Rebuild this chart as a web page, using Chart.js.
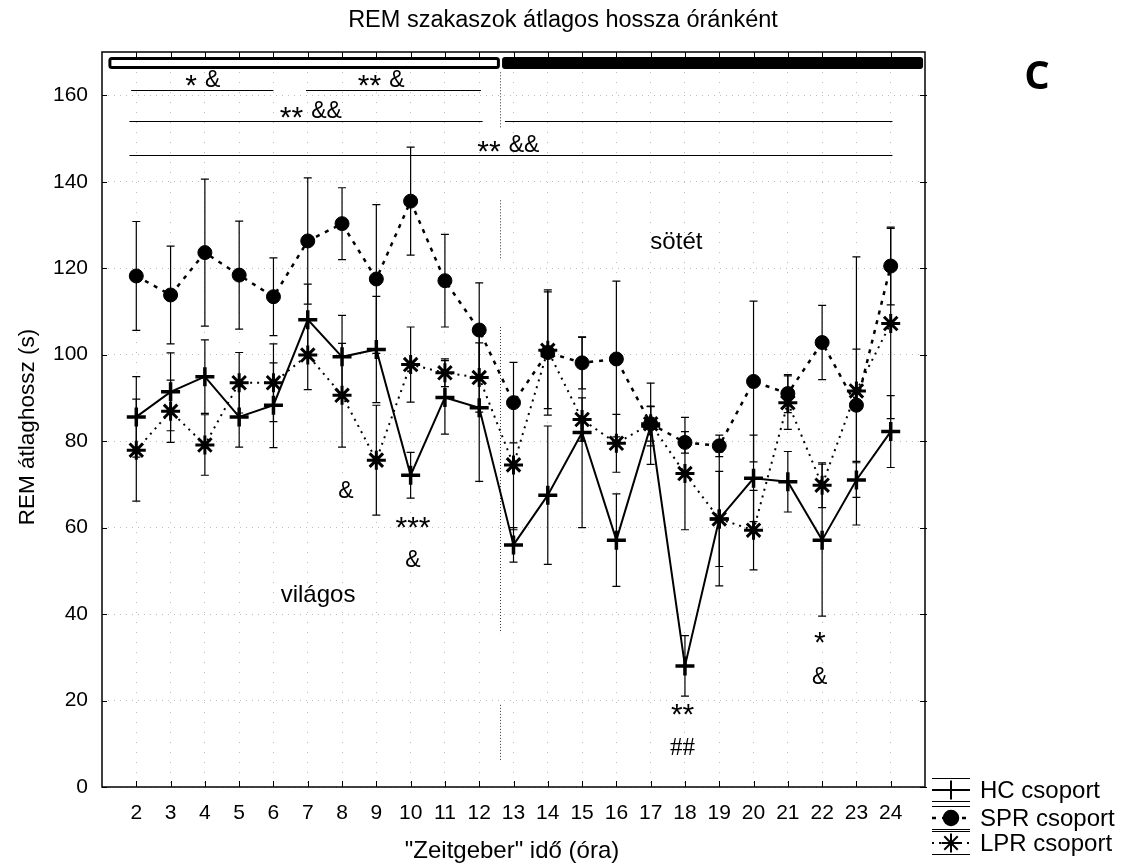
<!DOCTYPE html>
<html>
<head>
<meta charset="utf-8">
<script src="https://cdn.jsdelivr.net/npm/chart.js@4"></script>
<style>
html, body { margin: 0; padding: 0; background: #fff; }
#wrap { width: 1126px; height: 867px; }
</style>
</head>
<body>
<div id="wrap"><canvas id="myChart" width="1126" height="867"></canvas></div>
<script>
// órák (Zeitgeber idő)
const hours = [2, 3, 4, 5, 6, 7, 8, 9, 10, 11, 12, 13, 14, 15, 16, 17, 18, 19, 20, 21, 22, 23, 24];

// HC csoport: átlag és SE
const hcMean = [85.6, 91.4, 94.9, 85.6, 88.3, 108.1, 99.5, 101.2, 72.1, 90.1, 87.7, 56.0, 67.5, 82.0, 57.1, 83.5, 28.0, 62.0, 71.4, 70.6, 57.1, 71.0, 82.2];
const hcErr  = [9.3, 9.0, 8.5, 7.0, 9.8, 8.2, 9.6, 12.3, 5.3, 8.5, 17.0, 4.0, 16.0, 22.0, 10.7, 4.6, 7.0, 15.5, 10.0, 7.0, 17.6, 4.0, 8.3];

// SPR csoport
const sprMean = [118.2, 113.8, 123.6, 118.4, 113.4, 126.3, 130.3, 117.5, 135.5, 117.1, 105.7, 88.9, 100.5, 98.1, 99.0, 84.0, 79.7, 78.9, 93.8, 91.0, 102.8, 88.3, 120.5];
const sprErr  = [12.6, 11.3, 17.0, 12.5, 9.0, 14.6, 8.3, 17.2, 12.5, 10.7, 10.9, 9.3, 14.5, 6.0, 18.0, 9.4, 2.5, 2.5, 18.6, 4.4, 8.6, 13.0, 9.0];

// LPR csoport
const lprMean = [77.9, 86.9, 79.1, 93.5, 93.5, 99.9, 90.6, 75.6, 97.7, 95.8, 94.7, 74.5, 101.0, 85.0, 79.5, 84.0, 72.5, 62.0, 59.4, 88.9, 69.8, 91.6, 107.2];
const lprErr  = [11.8, 7.2, 7.0, 7.0, 9.0, 8.0, 12.0, 12.7, 8.7, 3.2, 8.0, 15.0, 13.5, 5.0, 6.7, 4.0, 13.0, 11.0, 9.2, 6.2, 5.2, 31.0, 22.0];

const yTicks = [0, 20, 40, 60, 80, 100, 120, 140, 160];

// szignifikancia vonalak: [tól, ig, szint]
const sigLines = [[1.85, 6.0, 161.2], [6.95, 12.05, 161.2], [1.8, 12.1, 154.0], [12.75, 24.05, 154.0], [1.8, 24.05, 146.1]];
const sigTexts = [['* &', 3.94, 163.4], ['** &', 9.14, 163.4], ['** &&', 7.09, 156.2], ['** &&', 12.85, 148.3]];
const markTexts = [['&', 8.11, 68.2], ['***', 10.07, 61.3], ['&', 10.07, 52.3], ['**', 17.93, 18.0], ['##', 17.93, 9.0], ['*', 21.93, 34.7], ['&', 21.93, 25.4]];
const phaseTexts = [['világos', 7.3, 44.4], ['sötét', 17.75, 126.0]];
const lightEnd = 12.6;
const dividerParts = [[165.3, 152.4], [135.7, 121.8], [106.4, 35.6], [19.0, 6.2]];

const FONT = "'Liberation Sans', Arial, sans-serif";

function toPoints(mean) {
    return hours.map((h, i) => ({x: h, y: mean[i]}));
}

function drawStars(ctx, txt, x, y, size) {
    // a csillagok a sor közepén álljanak
    ctx.font = size + 'px ' + FONT;
    ctx.fillText(txt, x, y + size * 0.22);
}

// hibasávok a pontok alá
const errorBars = {
    id: 'errorBars',
    beforeDatasetsDraw(chart) {
        const {ctx, scales: {x, y}} = chart;
        ctx.save();
        ctx.strokeStyle = '#000';
        ctx.lineWidth = 1.2;
        chart.data.datasets.forEach(ds => {
            ds.data.forEach((p, i) => {
                const e = ds.errors[i];
                const px = x.getPixelForValue(p.x);
                const t = y.getPixelForValue(p.y + e);
                const b = y.getPixelForValue(p.y - e);
                ctx.beginPath();
                ctx.moveTo(px, t); ctx.lineTo(px, b);
                ctx.moveTo(px - 4, t); ctx.lineTo(px + 4, t);
                ctx.moveTo(px - 4, b); ctx.lineTo(px + 4, b);
                ctx.stroke();
            });
        });
        ctx.restore();
    }
};

// keret, belső osztások, feliratok, jelmagyarázat
const extras = {
    id: 'extras',
    beforeDatasetsDraw(chart) {
        const {ctx, chartArea: a, scales: {x, y}} = chart;
        ctx.save();
        ctx.strokeStyle = '#000';

        // világos / sötét sáv
        const x0 = x.getPixelForValue(1.23), x1 = x.getPixelForValue(12.56);
        const x2 = x.getPixelForValue(12.71), x3 = x.getPixelForValue(24.9);
        ctx.lineWidth = 3;
        ctx.beginPath();
        ctx.roundRect(x0, a.top + 6.5, x1 - x0, 9, 2);
        ctx.fillStyle = '#fff';
        ctx.fill();
        ctx.stroke();
        ctx.beginPath();
        ctx.roundRect(x2 - 1.5, a.top + 5, x3 - x2 + 3, 12, 3);
        ctx.fillStyle = '#000';
        ctx.fill();

        // szignifikancia vonalak
        ctx.lineWidth = 1;
        sigLines.forEach(([a1, a2, v]) => {
            const py = Math.round(y.getPixelForValue(v)) + 0.5;
            ctx.beginPath();
            ctx.moveTo(x.getPixelForValue(a1), py);
            ctx.lineTo(x.getPixelForValue(a2), py);
            ctx.stroke();
        });

        // világos-sötét határ
        ctx.setLineDash([1, 2]);
        ctx.strokeStyle = '#333';
        const dx = Math.round(x.getPixelForValue(lightEnd)) + 0.5;
        dividerParts.forEach(([v1, v2]) => {
            ctx.beginPath();
            ctx.moveTo(dx, y.getPixelForValue(v1));
            ctx.lineTo(dx, y.getPixelForValue(v2));
            ctx.stroke();
        });
        ctx.setLineDash([]);
        ctx.restore();
    },
    afterDraw(chart) {
        const {ctx, chartArea: a, scales: {x, y}} = chart;
        ctx.save();
        ctx.strokeStyle = '#000';
        ctx.fillStyle = '#000';

        // keret
        ctx.lineWidth = 1.5;
        ctx.strokeRect(a.left, a.top, a.right - a.left, a.bottom - a.top);

        // osztások befelé
        ctx.lineWidth = 1;
        ctx.beginPath();
        yTicks.forEach(v => {
            const py = Math.round(y.getPixelForValue(v)) + 0.5;
            ctx.moveTo(a.left, py); ctx.lineTo(a.left + 5, py);
            ctx.moveTo(a.right - 5, py); ctx.lineTo(a.right + 2, py);
        });
        hours.forEach(h => {
            const px = Math.round(x.getPixelForValue(h)) + 0.5;
            ctx.moveTo(px, a.bottom); ctx.lineTo(px, a.bottom - 6);
            ctx.moveTo(px, a.top); ctx.lineTo(px, a.top + 5);
        });
        ctx.stroke();

        // szövegek
        ctx.textAlign = 'center';
        ctx.textBaseline = 'middle';
        sigTexts.forEach(([t, hx, v]) => {
            const px = x.getPixelForValue(hx), py = y.getPixelForValue(v);
            const parts = t.split(' ');
            ctx.font = '23px ' + FONT;
            const wAmp = ctx.measureText(parts[1]).width;
            ctx.font = '30px ' + FONT;
            const wStar = ctx.measureText(parts[0]).width;
            const total = wStar + 8 + wAmp;
            const left = px - total / 2;
            drawStars(ctx, parts[0], left + wStar / 2, py, 30);
            ctx.font = '23px ' + FONT;
            ctx.fillText(parts[1], left + wStar + 8 + wAmp / 2, py);
        });
        markTexts.forEach(([t, hx, v]) => {
            const px = x.getPixelForValue(hx), py = y.getPixelForValue(v);
            if (t[0] === '*') {
                drawStars(ctx, t, px, py, 30);
            } else if (t[0] === '#') {
                ctx.font = "25px 'Liberation Serif', serif";
                ctx.fillText(t, px, py);
            } else {
                ctx.font = '23px ' + FONT;
                ctx.fillText(t, px, py);
            }
        });
        ctx.font = '24px ' + FONT;
        phaseTexts.forEach(([t, hx, v]) => {
            ctx.fillText(t, x.getPixelForValue(hx), y.getPixelForValue(v));
        });

        // címek
        ctx.font = '23.5px ' + FONT;
        ctx.fillText('REM szakaszok átlagos hossza óránként', 563, 21);
        ctx.font = '24px ' + FONT;
        ctx.fillText('"Zeitgeber" idő (óra)', 512, 851);
        ctx.save();
        ctx.translate(28, 427);
        ctx.rotate(-Math.PI / 2);
        ctx.font = '22.5px ' + FONT;
        ctx.fillText('REM átlaghossz (s)', 0, 0);
        ctx.restore();

        ctx.font = "700 40px 'Open Sans', sans-serif";
        ctx.fillText('C', 1037, 78);

        // jelmagyarázat
        const rows = [
            {label: 'HC csoport', y: 790, ds: chart.data.datasets[0]},
            {label: 'SPR csoport', y: 818, ds: chart.data.datasets[1]},
            {label: 'LPR csoport', y: 843, ds: chart.data.datasets[2]}
        ];
        rows.forEach(r => {
            ctx.lineWidth = 1;
            ctx.setLineDash([]);
            ctx.beginPath();
            ctx.moveTo(932, r.y - 11.5); ctx.lineTo(970, r.y - 11.5);
            ctx.moveTo(932, r.y + 11.5); ctx.lineTo(970, r.y + 11.5);
            ctx.stroke();
            ctx.lineWidth = r.ds.borderWidth;
            ctx.setLineDash(r.ds.borderDash || []);
            ctx.beginPath();
            ctx.moveTo(932, r.y); ctx.lineTo(970, r.y);
            ctx.stroke();
            ctx.setLineDash([]);
            Chart.helpers.drawPoint(ctx, {
                pointStyle: r.ds.pointStyle,
                radius: r.ds.pointRadius,
                borderWidth: r.ds.pointBorderWidth,
                rotation: 0
            }, 951, r.y);
            if (r.ds.pointStyle === 'circle') ctx.fill();
            ctx.font = '24px ' + FONT;
            ctx.textAlign = 'left';
            ctx.fillText(r.label, 980, r.y + 1);
        });
        ctx.restore();
    }
};

const data = {
    datasets: [
        {
            label: 'HC csoport',
            data: toPoints(hcMean),
            errors: hcErr,
            borderColor: '#000',
            borderWidth: 2,
            pointStyle: 'cross',
            pointRadius: 9.5,
            pointBorderWidth: 3.5,
            pointBorderColor: '#000',
            pointBackgroundColor: '#000'
        },
        {
            label: 'SPR csoport',
            data: toPoints(sprMean),
            errors: sprErr,
            borderColor: '#000',
            borderWidth: 2.5,
            borderDash: [4, 6],
            pointStyle: 'circle',
            pointRadius: 7,
            pointBorderWidth: 1,
            pointBorderColor: '#000',
            pointBackgroundColor: '#000'
        },
        {
            label: 'LPR csoport',
            data: toPoints(lprMean),
            errors: lprErr,
            borderColor: '#000',
            borderWidth: 2,
            borderDash: [2, 5],
            pointStyle: 'star',
            pointRadius: 9.5,
            pointBorderWidth: 3,
            pointBorderColor: '#000',
            pointBackgroundColor: '#000'
        }
    ]
};

const config = {
    type: 'line',
    data: data,
    options: {
        responsive: false,
        animation: false,
        devicePixelRatio: 1,
        layout: { padding: { top: 52, left: 0, right: 201, bottom: 0 } },
        plugins: { legend: { display: false }, tooltip: { enabled: false }, title: { display: false } },
        scales: {
            x: {
                type: 'linear',
                min: 1,
                max: 25,
                afterBuildTicks: s => { s.ticks = hours.map(v => ({value: v})); },
                afterFit: s => { s.height = 80; },
                ticks: { color: '#000', font: { family: FONT, size: 21 }, padding: 14, maxRotation: 0, autoSkip: false },
                grid: { color: '#bcbcbc', lineWidth: 1, drawTicks: false },
                border: { display: false, dash: [1, 9] }
            },
            y: {
                min: 0,
                max: 170,
                afterBuildTicks: s => { s.ticks = yTicks.map(v => ({value: v})); },
                afterFit: s => { s.width = 102; },
                ticks: { color: '#000', font: { family: FONT, size: 21 }, padding: 14 },
                grid: { color: '#bcbcbc', lineWidth: 1, drawTicks: false },
                border: { display: false, dash: [1, 5] }
            }
        }
    },
    plugins: [extras, errorBars]
};

const myChart = new Chart(document.getElementById('myChart'), config);
</script>
</body>
</html>
